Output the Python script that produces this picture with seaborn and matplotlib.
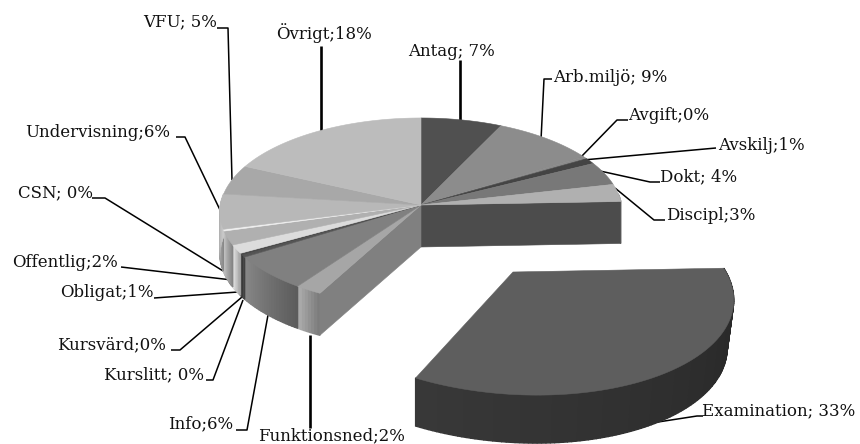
import numpy as np
import matplotlib
matplotlib.use("Agg")
import matplotlib.pyplot as plt
import matplotlib.colors as mc
import seaborn as sns

categories = ["Antag", "Arb.miljö", "Avgift", "Avskilj", "Dokt", "Discipl", "Examination",
              "Funktionsned", "Info", "Kurslitt", "Kursvärd", "Obligat", "Offentlig", "CSN",
              "Undervisning", "VFU", "Övrigt"]
shares = [7.0, 9.0, 0.4, 1.0, 4.0, 3.0, 33.4, 2.0, 6.2, 0.35, 0.35, 1.49, 2.4, 0.3, 6.0, 5.1, 18.0]
labels = ["Antag; 7%", "Arb.miljö; 9%", "Avgift;0%", "Avskilj;1%", "Dokt; 4%", "Discipl;3%",
          "Examination; 33%", "Funktionsned;2%", "Info;6%", "Kurslitt; 0%", "Kursvärd;0%",
          "Obligat;1%", "Offentlig;2%", "CSN; 0%", "Undervisning;6%", "VFU; 5%", "Övrigt;18%"]
top_colors = ["#505050", "#8c8c8c", "#8a8a8a", "#444444", "#787878", "#b0b0b0", "#5e5e5e",
              "#a6a6a6", "#808080", "#555555", "#4a4a4a", "#dcdcdc", "#b0b0b0", "#efefef",
              "#b8b8b8", "#a8a8a8", "#bcbcbc"]
side_colors = ["#404040", "#707070", "#707070", "#383838", "#606060", "#909090", "#2f2f2f",
               "#969696", "#727272", "#484848", "#404040", "#c4c4c4", "#a0a0a0", "#d0d0d0",
               "#a8a8a8", "#989898", "#a8a8a8"]
label_xy = [(408, 51), (553, 77), (628, 115), (718, 145), (660, 177), (666, 215), (702, 411),
            (258, 436), (168, 424), (104, 375), (57, 345), (60, 292), (12, 262), (18, 193),
            (25, 132), (143, 22), (276, 33)]
leaders = [[(460, 125), (460, 60)],
           [(541, 140), (544, 79), (552, 79)],
           [(580, 158), (617, 120), (628, 120)],
           [(583, 160), (716, 148)],
           [(600, 171), (650, 182), (660, 182)],
           [(615, 188), (654, 220), (665, 220)],
           [(645, 424), (697, 416), (703, 416)],
           [(310, 335), (310, 428)],
           [(268, 315), (247, 430), (236, 430)],
           [(243, 300), (213, 380), (206, 380)],
           [(242, 297), (180, 350), (171, 350)],
           [(238, 292), (154, 298)],
           [(232, 280), (121, 267)],
           [(228, 274), (105, 198), (92, 198)],
           [(221, 212), (185, 137), (176, 137)],
           [(232, 180), (228, 28), (217, 28)],
           [(321, 135), (321, 46)]]
heavy = {"Antag", "Funktionsned", "Övrigt"}

MAIN = dict(cx=421, cy=205, rx=200.5, ry=93.5, k=0.0745, s=0.0, depth=42, shrink=0.0)
EXAM = dict(cx=513, cy=272, rx=213, ry=102, k=0.1714, s=-0.094, depth=48, shrink=0.03)
GAP_NAME = "Examination"


def project(theta, p):
    t = np.radians(theta)
    X, Y = np.sin(t), np.cos(t)
    w = 1 + p["k"] * Y
    return p["cx"] + p["rx"] * (X + p["s"] * Y) / w, p["cy"] - p["ry"] * Y / w


def base_x(x, p):
    return x - p["shrink"] * max(x - p["cx"], 0)


def draw_side(ax, a, b, color, p, z):
    edges = np.arange(a, b + 1.0, 1.0)
    edges[-1] = b
    base = np.array(mc.to_rgb(color))
    for i in range(len(edges) - 1):
        t0, t1 = edges[i], edges[i + 1]
        if np.cos(np.radians((t0 + t1) / 2)) > 0.12:
            continue
        frac = (i + 0.5) / max(len(edges) - 1, 1)
        col = np.clip(base * (0.8 + 0.4 * frac), 0, 1)
        x0, y0 = project(t0, p)
        x1, y1 = project(t1, p)
        d = p["depth"]
        ax.fill([x0, x1, base_x(x1, p), base_x(x0, p)], [y0, y1, y1 + d, y0 + d],
                facecolor=col, edgecolor=col, lw=1.0, zorder=z)


def draw_top(ax, a, b, color, p, z):
    th = np.linspace(a, b, max(int(b - a) * 2, 3))
    xs, ys = project(th, p)
    ax.fill(np.r_[p["cx"], xs], np.r_[p["cy"], ys], color=color, lw=0.4, zorder=z)


def draw_wall(ax, theta, color, p, z):
    x, y = project(theta, p)
    d = p["depth"]
    ax.fill([p["cx"], x, x, p["cx"]], [p["cy"], y, y + d, p["cy"] + d], color=color, lw=0.4, zorder=z)


sns.set_theme(style="white")
plt.rcParams["font.family"] = ["DejaVu Serif"]
fig, ax = plt.subplots(figsize=(8.6, 4.44), dpi=100)
ax.set_position([0, 0, 1, 1])
ax.set_xlim(0, 860)
ax.set_ylim(444, 0)
ax.axis("off")

ends = np.cumsum(shares) / np.sum(shares) * 360
starts = np.r_[0, ends[:-1]]

for name, pts in zip(categories, leaders):
    xs, ys = zip(*pts)
    ax.plot(xs, ys, color="black", lw=1.9 if name in heavy else 1.1, zorder=1, solid_capstyle="butt")

for name, a, b, tc, sc in zip(categories, starts, ends, top_colors, side_colors):
    if name == GAP_NAME:
        draw_side(ax, a, b, sc, EXAM, 5)
        draw_top(ax, a, b, tc, EXAM, 6)
    else:
        draw_side(ax, a, b, sc, MAIN, 2)
gap = categories.index(GAP_NAME)
draw_wall(ax, starts[gap], "#4c4c4c", MAIN, 3)
draw_wall(ax, ends[gap], "#808080", MAIN, 3)
for name, a, b, tc in zip(categories, starts, ends, top_colors):
    if name != GAP_NAME:
        draw_top(ax, a, b, tc, MAIN, 4)

for text, (x, y) in zip(labels, label_xy):
    ax.text(x, y, text, ha="left", va="center", fontsize=12.0, color="#111111", zorder=8)

sns.despine(ax=ax, left=True, bottom=True)
fig.savefig("out.png", dpi=100, facecolor="white")
